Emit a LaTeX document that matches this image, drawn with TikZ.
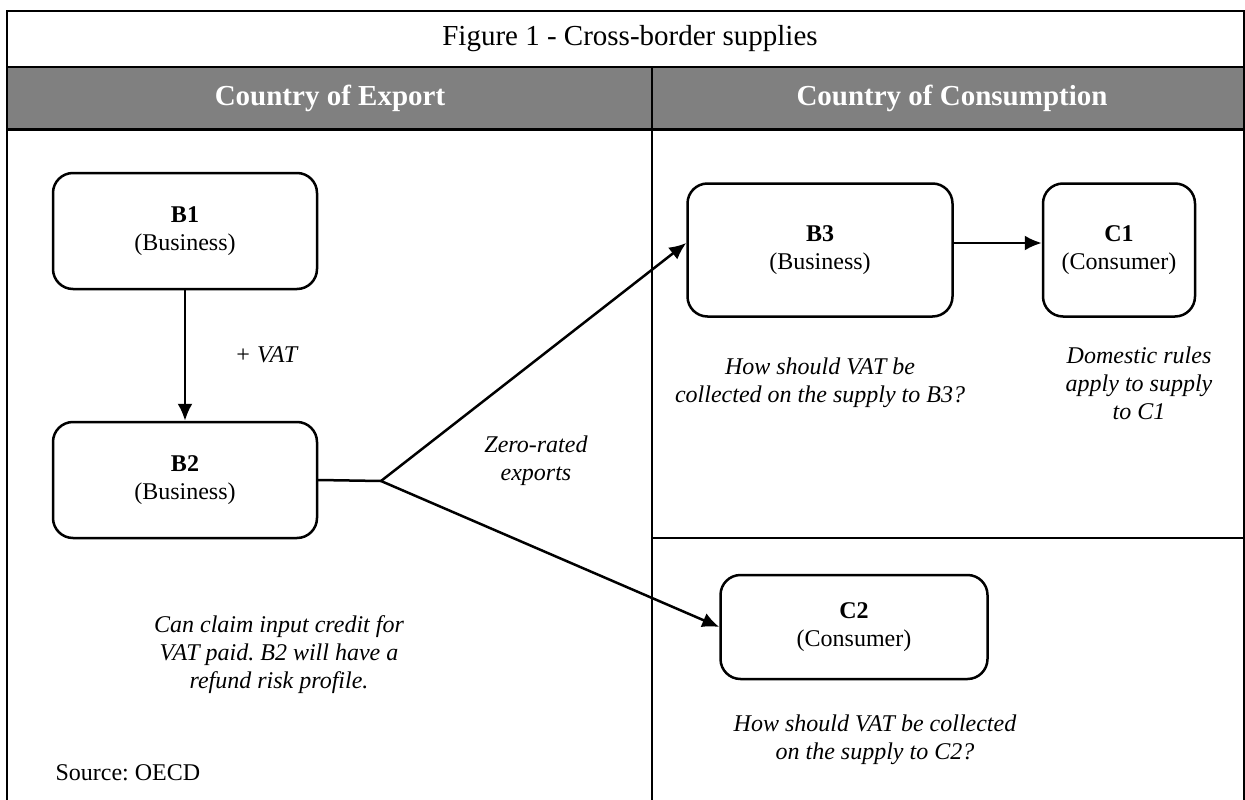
\documentclass[tikz,border=0pt]{standalone}
\usepackage{fontspec}
\setmainfont{Liberation Serif}
\usepackage{xcolor}
\usetikzlibrary{arrows.meta, positioning}

\definecolor{headgray}{RGB}{128,128,128}
\newcommand{\bodyfont}{\fontsize{24}{28}\selectfont}
\newcommand{\bigfont}{\fontsize{29}{34}\selectfont}
\frenchspacing

\begin{document}
\begin{tikzpicture}[x=1pt, y=-1pt,
    box/.style={draw, line width=2.5pt, rounded corners=20pt, align=center, font=\bodyfont, inner sep=0pt},
    note/.style={align=center, font=\bodyfont\itshape},
    head/.style={text=white, font=\bigfont\bfseries},
    flow/.style={line width=2.5pt, -{Latex[length=17pt, width=15pt]}}]

    \useasboundingbox (0,0) rectangle (1245,800);
    % Bandeau des colonnes
    \fill[headgray] (7,67) rectangle (1244,129);
    \draw[line width=2pt] (7,67) -- (1244,67);
    \draw[line width=3pt] (7,129) -- (1244,129);
    % Cadre et séparations
    \draw[line width=2pt] (7,800) -- (7,11) -- (1244,11) -- (1244,800);
    \draw[line width=2pt] (652,67) -- (652,800);
    \draw[line width=2.5pt] (652,538) -- (1244,538);

    \node[font=\bigfont] (title) at (630,39) {Figure 1 - Cross-border supplies};
    \node[head] (export) at (330,98) {Country of Export};
    \node[head] (consumption) at (952,98) {Country of Consumption};

    % Acteurs
    \node[box, minimum width=264pt, minimum height=116pt] (B1) at (185,231) {\textbf{B1}\\(Business)};
    \node[box, minimum width=264pt, minimum height=116pt] (B2) at (185,480) {\textbf{B2}\\(Business)};
    \node[box, minimum width=265pt, minimum height=133pt] (B3) at (820,250) {\textbf{B3}\\(Business)};
    \node[box, minimum width=152pt, minimum height=133pt] (C1) at (1119,250) {\textbf{C1}\\(Consumer)};
    \node[box, minimum width=267pt, minimum height=104pt] (C2) at (854,627) {\textbf{C2}\\(Consumer)};

    % Flux
    \coordinate (split) at (381,481);
    \draw[flow] (B1.south) -- (B2.north);
    \draw[line width=2.5pt, line cap=round] (B2.east) -- (split);
    \draw[flow] (split) -- ([yshift=7pt]B3.west);
    \draw[flow] (split) -- (C2.west);
    \draw[flow] ([yshift=7pt]B3.east) -- ([yshift=7pt]C1.west);

    % Commentaires
    \node[note] (vat) at (266,355) {+ VAT};
    \node[note] (zero) at (536,461) {Zero-rated\\exports};
    \node[note] (askB3) at (820,383) {How should VAT be\\collected on the supply to B3?};
    \node[note] (domestic) at (1139,383) {Domestic rules\\apply to supply\\to C1};
    \node[note] (credit) at (279,655) {Can claim input credit for\\VAT paid. B2 will have a\\refund risk profile.};
    \node[note] (askC2) at (875,740) {How should VAT be collected\\on the supply to C2?};
    \node[font=\bodyfont, anchor=west] (source) at (52,773) {Source: OECD};

\end{tikzpicture}
\end{document}
